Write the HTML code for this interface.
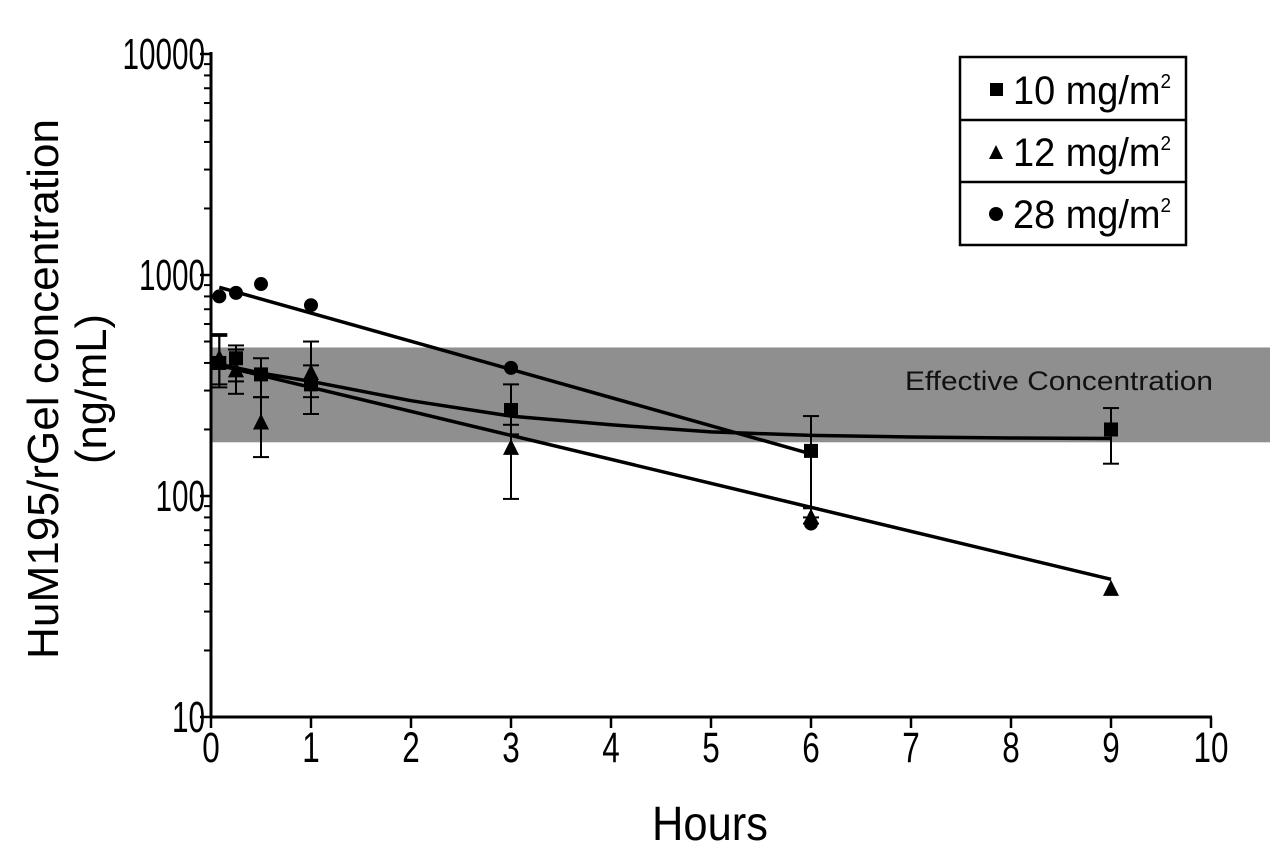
<!DOCTYPE html>
<html><head><meta charset="utf-8"><style>
html,body{margin:0;padding:0;background:#fff}
svg{display:block;font-family:"Liberation Sans",sans-serif}
</style></head><body>
<svg id="chart" width="1280" height="862" viewBox="0 0 1280 862">
<rect x="0" y="0" width="1280" height="862" fill="#fff"/>
<g id="band"></g>
<g id="axes"></g>
<g id="fits"></g>
<g id="marks"></g>
<g id="legend">
  <rect x="960" y="57" width="226" height="188" fill="#fff" stroke="#000" stroke-width="2.5"/>
  <line x1="960" y1="120" x2="1186" y2="120" stroke="#000" stroke-width="2.5"/>
  <line x1="960" y1="182" x2="1186" y2="182" stroke="#000" stroke-width="2.5"/>
  <g>
    <rect x="990" y="83" width="13" height="13" fill="#000"/>
    <text x="1013" y="104" font-size="40" textLength="158" lengthAdjust="spacingAndGlyphs">10 mg/m<tspan font-size="20" dy="-16">2</tspan></text>
  </g>
  <g>
    <polygon points="996,145 1003,159 989,159" fill="#000"/>
    <text x="1013" y="166" font-size="40" textLength="158" lengthAdjust="spacingAndGlyphs">12 mg/m<tspan font-size="20" dy="-16">2</tspan></text>
  </g>
  <g>
    <circle cx="996" cy="214" r="7" fill="#000"/>
    <text x="1013" y="228" font-size="40" textLength="158" lengthAdjust="spacingAndGlyphs">28 mg/m<tspan font-size="20" dy="-16">2</tspan></text>
  </g>
</g>
</svg>
<script>
const hours = [0.083, 0.25, 0.5, 1, 3, 6, 9];
const sqVals = [400, 420, 355, 320, 245, 160, 200];
const sqLo = [310, 330, 280, 235, 190, 75, 140];
const sqHi = [530, 480, 420, 390, 320, 230, 250];
const triHours = [0.083, 0.25, 0.5, 1, 3, 6, 9];
const triVals = [420, 370, 215, 360, 165, 80, 38];
const triLo = [320, 290, 150, 280, 97, 80, 38];
const triHi = [540, 460, 280, 500, 210, 88, 38];
const cirHours = [0.083, 0.25, 0.5, 1, 3, 6];
const cirVals = [800, 830, 910, 730, 380, 75];
const fitSqX = [0.083, 0.5, 1, 2, 3, 4, 5, 6, 7, 8, 9];
const fitSqY = [395, 360, 330, 270, 230, 210, 195, 188, 185, 183, 182];
const fitTriX = [0.083, 9];
const fitTriY = [390, 42];
const fitCirX = [0.083, 6];
const fitCirY = [880, 155];
const xTicks = [0,1,2,3,4,5,6,7,8,9,10];
const yTicks = [10,100,1000,10000];
const bandRange = [175, 470];

const NS = "http://www.w3.org/2000/svg";
const X0=211, PXH=100, Y10=717, DEC=221;
function sx(h){return X0+h*PXH;}
function sy(v){return Y10-(Math.log10(v)-1)*DEC;}
function mk(tag, attrs, parent){const e=document.createElementNS(NS,tag);for(const k in attrs)e.setAttribute(k,attrs[k]);parent.appendChild(e);return e;}
const band=document.getElementById('band'), axes=document.getElementById('axes'), fits=document.getElementById('fits'), marks=document.getElementById('marks');

const br=mk('rect',{x:X0,y:sy(bandRange[1]),width:1270-X0,height:sy(bandRange[0])-sy(bandRange[1]),fill:'#8f8f8f'},band);


const bt=mk('text',{x:1213,y:390,'font-size':27,'text-anchor':'end',fill:'#111',textLength:308,lengthAdjust:'spacingAndGlyphs'},band);
bt.textContent='Effective Concentration';



const ya=mk('line',{x1:X0,y1:sy(10000)-2,x2:X0,y2:Y10+1,stroke:'#000','stroke-width':3},axes);


const xa=mk('line',{x1:X0-1,y1:Y10,x2:sx(10)+1,y2:Y10,stroke:'#000','stroke-width':3},axes);


yTicks.forEach(v=>{
  mk('line',{x1:X0-11,y1:sy(v),x2:X0,y2:sy(v),stroke:'#000','stroke-width':2.5},axes);
  const s=String(v);
  const t=mk('text',{x:X0-6,y:sy(v)+15,'font-size':44,'text-anchor':'end',textLength:s.length*16.5,lengthAdjust:'spacingAndGlyphs'},axes);
  t.textContent=s;
  
  
});
for(let d=10; d<10000; d*=10){for(let m=2;m<10;m++){const y=sy(d*m);mk('line',{x1:X0-7,y1:y,x2:X0,y2:y,stroke:'#000','stroke-width':2},axes);}}
xTicks.forEach(h=>{
  mk('line',{x1:sx(h),y1:Y10,x2:sx(h),y2:Y10+11,stroke:'#000','stroke-width':2.5},axes);
  const s=String(h);
  const t=mk('text',{x:sx(h),y:Y10+45,'font-size':43,'text-anchor':'middle',textLength:s.length*17.5,lengthAdjust:'spacingAndGlyphs'},axes);
  t.textContent=s;
  
  
});
const xt=mk('text',{x:710,y:840,'font-size':48,'text-anchor':'middle',textLength:116,lengthAdjust:'spacingAndGlyphs'},axes);
xt.textContent='Hours';


const yt1=mk('text',{x:0,y:0,'font-size':44,'text-anchor':'middle',textLength:540,lengthAdjust:'spacingAndGlyphs',transform:'translate(58,389) rotate(-90)'},axes);
yt1.textContent='HuM195/rGel concentration';


const yt2=mk('text',{x:0,y:0,'font-size':44,'text-anchor':'middle',textLength:150,lengthAdjust:'spacingAndGlyphs',transform:'translate(106,389) rotate(-90)'},axes);
yt2.textContent='(ng/mL)';



function fitLine(xs,ys,name){
  const d=xs.map((h,i)=>(i?'L':'M')+sx(h).toFixed(1)+','+sy(ys[i]).toFixed(1)).join(' ');
  const p=mk('path',{d:d,fill:'none',stroke:'#000','stroke-width':3.5,'stroke-linejoin':'round'},fits);
  
  
}
fitLine(fitSqX,fitSqY,'fit-line-10');
fitLine(fitTriX,fitTriY,'fit-line-12');
fitLine(fitCirX,fitCirY,'fit-line-28');

function errBar(h,lo,hi){
  const x=sx(h);
  if(hi-lo<2) return;
  mk('line',{x1:x,y1:sy(hi),x2:x,y2:sy(lo),stroke:'#000','stroke-width':2},marks);
  mk('line',{x1:x-8,y1:sy(hi),x2:x+8,y2:sy(hi),stroke:'#000','stroke-width':2},marks);
  mk('line',{x1:x-8,y1:sy(lo),x2:x+8,y2:sy(lo),stroke:'#000','stroke-width':2},marks);
}
hours.forEach((h,i)=>errBar(h,sqLo[i],sqHi[i]));
triHours.forEach((h,i)=>errBar(h,triLo[i],triHi[i]));
hours.forEach((h,i)=>{
  const r=mk('rect',{x:sx(h)-7,y:sy(sqVals[i])-7,width:14,height:14,fill:'#000'},marks);
  
  
});
triHours.forEach((h,i)=>{
  const x=sx(h),y=sy(triVals[i]);
  const p=mk('polygon',{points:`${x},${y-9} ${x+8},${y+7} ${x-8},${y+7}`,fill:'#000'},marks);
  
  
});
cirHours.forEach((h,i)=>{
  const c=mk('circle',{cx:sx(h),cy:sy(cirVals[i]),r:7,fill:'#000'},marks);
  
  
});
</script>
</body></html>
